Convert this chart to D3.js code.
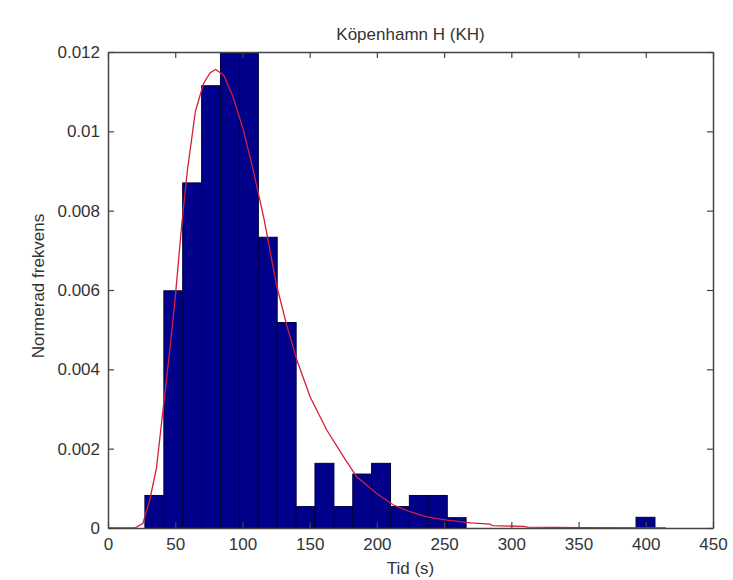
<!DOCTYPE html>
<html>
<head>
<meta charset="utf-8">
<script src="https://cdn.jsdelivr.net/npm/d3@7"></script>
<style>
  body { margin: 0; background: #fff; }
  svg text { font-family: "Liberation Sans", Arial, sans-serif; fill: #333; }
</style>
</head>
<body>
<div id="chart"></div>
<script>
// Histogram data (bin centres in seconds, normalised frequency)
const binCenters = [34.5, 48.6, 62.6, 76.7, 90.7, 104.8, 118.8, 132.9, 146.9, 161.0,
  175.0, 189.1, 203.1, 217.2, 231.2, 245.3, 259.3, 273.4, 287.4, 301.5,
  315.5, 329.6, 343.6, 357.7, 371.7, 385.8, 399.8];
const binDensity = [0.00082, 0.00598, 0.0087, 0.01115, 0.0125, 0.01224, 0.00733, 0.00518, 0.00054, 0.00163,
  0.00054, 0.00136, 0.00163, 0.00054, 0.00082, 0.00082, 0.00026, 0, 0, 0,
  0, 0, 0, 0, 0, 0, 0.00027];

// Fitted curve
const fitX = [0, 20, 26, 31, 36, 41, 46, 50, 55, 59, 65, 71, 76, 80, 86, 93, 100.7, 108, 116, 121,
  125.5, 133, 140.4, 150.3, 162.7, 175.1, 185, 199.9, 212.3, 224.7, 237.1, 252, 262, 270, 284,
  286, 309, 312, 350, 415];
const fitY = [0, 0, 0.00012, 0.0007, 0.0015, 0.003, 0.0045, 0.0058, 0.0077, 0.009, 0.0105, 0.0112, 0.01148, 0.01156, 0.01142, 0.01087, 0.01003, 0.00902, 0.0078, 0.0069,
  0.0061, 0.0051, 0.00424, 0.00331, 0.00247, 0.0018, 0.00129, 0.00087, 0.00058, 0.00041, 0.00028, 0.0002, 0.00016, 0.00013, 0.0001,
  0.00006, 0.00004, 0.00002, 0.00001, 0];

const xTicks = [0, 50, 100, 150, 200, 250, 300, 350, 400, 450];
const yTicks = [0, 0.002, 0.004, 0.006, 0.008, 0.01, 0.012];
const yTickLabels = ["0", "0.002", "0.004", "0.006", "0.008", "0.01", "0.012"];

const titleText = "Köpenhamn H (KH)";
const xLabel = "Tid (s)";
const yLabel = "Normerad frekvens";

// Layout
const W = 733, H = 580;
const margin = {top: 52, right: 20, bottom: 52, left: 108};
const width = W - margin.left - margin.right;
const height = H - margin.top - margin.bottom;
const tickLen = 6;
const fontSize = 17;

const svg = d3.select("#chart").append("svg")
  .attr("width", W)
  .attr("height", H);

const g = svg.append("g")
  .attr("transform", `translate(${margin.left},${margin.top})`);

const x = d3.scaleLinear().domain([0, 450]).range([0, width]);
const y = d3.scaleLinear().domain([0, 0.012]).range([height, 0]);

// clip so the tallest bars are cut by the box
g.append("clipPath").attr("id", "plot-clip")
  .append("rect").attr("width", width).attr("height", height);

const binW = binCenters[1] - binCenters[0];

// Bars
g.append("g")
  .attr("clip-path", "url(#plot-clip)")
  .selectAll("rect")
  .data(binCenters.map((c, i) => ({c, v: binDensity[i]})).filter(d => d.v > 0))
  .enter().append("rect")
    .attr("x", d => x(d.c - binW / 2))
    .attr("width", d => x(d.c + binW / 2) - x(d.c - binW / 2))
    .attr("y", d => y(d.v))
    .attr("height", d => y(0) - y(d.v))
    .attr("fill", "#00008b")
    .attr("stroke", "#00003a")
    .attr("stroke-width", 1);

// Fitted curve
const line = d3.line()
  .x(d => x(d[0]))
  .y(d => y(d[1]));

g.append("path")
  .datum(fitX.map((v, i) => [v, fitY[i]]))
  .attr("d", line)
  .attr("fill", "none")
  .attr("stroke", "#d0203a")
  .attr("stroke-width", 1.3);

// Axes box with inward ticks on all sides
const axisColor = "#444";

const xBottom = g.append("g")
  .attr("transform", `translate(0,${height})`)
  .call(d3.axisBottom(x).tickValues(xTicks).tickSizeInner(-tickLen).tickSizeOuter(0).tickPadding(10));
const xTop = g.append("g")
  .call(d3.axisTop(x).tickValues(xTicks).tickSizeInner(-tickLen).tickSizeOuter(0).tickFormat(""));
const yLeft = g.append("g")
  .call(d3.axisLeft(y).tickValues(yTicks).tickSizeInner(-tickLen).tickSizeOuter(0).tickPadding(8)
    .tickFormat((d, i) => yTickLabels[i]));
const yRight = g.append("g")
  .attr("transform", `translate(${width},0)`)
  .call(d3.axisRight(y).tickValues(yTicks).tickSizeInner(-tickLen).tickSizeOuter(0).tickFormat(""));

[xBottom, xTop, yLeft, yRight].forEach(a => {
  a.select(".domain").attr("stroke", axisColor).attr("stroke-width", 1.5);
  a.selectAll(".tick line").attr("stroke", axisColor).attr("stroke-width", 1.2);
  a.selectAll(".tick text")
    .style("font-family", "'Liberation Sans', Arial, sans-serif")
    .attr("font-size", fontSize)
    .attr("fill", "#333");
});

// Title and axis labels
svg.append("text")
  .attr("x", margin.left + width / 2)
  .attr("y", 40)
  .attr("text-anchor", "middle")
  .attr("font-size", fontSize)
  .text(titleText);

svg.append("text")
  .attr("x", margin.left + width / 2)
  .attr("y", H - 6)
  .attr("text-anchor", "middle")
  .attr("font-size", fontSize)
  .text(xLabel);

svg.append("text")
  .attr("transform", `translate(44,${margin.top + height / 2 - 4}) rotate(-90)`)
  .attr("text-anchor", "middle")
  .attr("font-size", fontSize)
  .text(yLabel);
</script>
</body>
</html>
